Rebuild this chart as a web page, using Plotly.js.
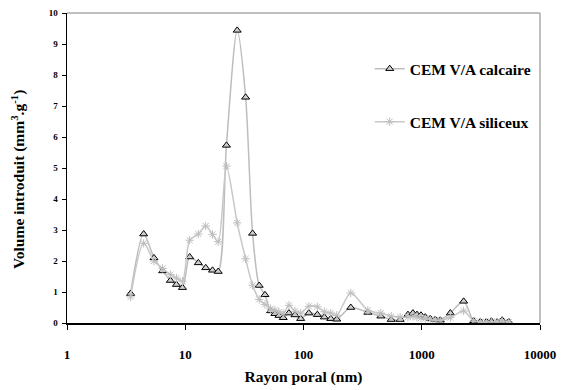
<!DOCTYPE html>
<html>
<head>
<meta charset="utf-8">
<script src="https://cdn.plot.ly/plotly-3.0.1.min.js"></script>
<style>html,body{margin:0;padding:0;background:#fff;}#chart{width:568px;height:390px;}</style>
</head>
<body>
<div id="chart"></div>
<script>
// Pore radius (nm)
const rayon = [3.45,4.45,5.44,6.44,7.49,8.42,9.47,10.9,12.9,14.9,17.0,19.0,22.3,27.5,32.4,37.1,42.2,47.2,52.7,57.3,62.0,67.4,75.3,84.7,94.6,111,131,150,170,191,251,350,451,552,657,764,842,911,985,1071,1181,1301,1435,1745,2260,2750,3133,3522,3884,4338,4783,5445];
// Intruded volume (mm3/g), CEM V/A calcaire
const calcaire = [0.95,2.87,2.10,1.68,1.37,1.24,1.14,2.13,1.94,1.78,1.70,1.66,5.73,9.44,7.28,2.89,1.21,0.91,0.39,0.30,0.24,0.17,0.32,0.26,0.14,0.32,0.27,0.19,0.14,0.12,0.50,0.34,0.22,0.11,0.11,0.27,0.32,0.27,0.25,0.19,0.14,0.11,0.09,0.32,0.70,0.07,0.04,0.04,0.06,0.03,0.09,0.04];
// Intruded volume (mm3/g), CEM V/A siliceux
const siliceux = [0.84,2.57,2.00,1.76,1.56,1.45,1.35,2.67,2.87,3.13,2.86,2.62,5.06,3.23,2.07,1.22,0.76,0.60,0.46,0.41,0.36,0.30,0.57,0.38,0.32,0.54,0.52,0.36,0.32,0.25,0.97,0.41,0.32,0.22,0.19,0.19,0.22,0.19,0.16,0.14,0.11,0.09,0.09,0.17,0.39,0.06,0.04,0.03,0.05,0.03,0.06,0.03];
const seriesNames = ["CEM V/A calcaire","CEM V/A siliceux"];
const xTickVals = [1,10,100,1000,10000];
const xTickText = ["1","10","100","1000","10000"];
const yTickVals = [0,1,2,3,4,5,6,7,8,9,10];
const xTitle = "Rayon poral (nm)";
const yTitle = "Volume introduit (mm<sup>3</sup>.g<sup>-1</sup>)";

const FONT = "'Liberation Serif', 'Times New Roman', serif";

const traces = [
  {
    x: rayon, y: calcaire, name: seriesNames[0], type: "scatter", mode: "lines+markers",
    line: {color: "#bdbdbd", width: 1.5, shape: "spline", smoothing: 0.8},
    marker: {symbol: "triangle-up", size: 7, color: "#cfcfcf", line: {color: "#000", width: 1}},
    legend: "legend"
  },
  {
    x: rayon, y: siliceux, name: seriesNames[1], type: "scatter", mode: "lines+markers",
    line: {color: "#c8c8c8", width: 1.5, shape: "spline", smoothing: 0.8},
    marker: {symbol: "asterisk-open", size: 7, color: "#bdbdbd", line: {color: "#bdbdbd", width: 1}},
    legend: "legend2"
  }
];

const legendFont = {family: FONT, size: 15.5, color: "#000", weight: "bold"};
const titleFont = {family: FONT, size: 15.5, color: "#000", weight: "bold"};
const layout = {
  width: 568, height: 390,
  margin: {l: 67, r: 28, t: 13, b: 67, pad: 0},
  paper_bgcolor: "#fff", plot_bgcolor: "#fff",
  font: {family: FONT, color: "#000"},
  showlegend: true,
  legend: {x: 0.64, y: 0.819, xanchor: "left", yanchor: "middle", bgcolor: "rgba(0,0,0,0)", borderwidth: 0, font: legendFont},
  legend2: {x: 0.64, y: 0.648, xanchor: "left", yanchor: "middle", bgcolor: "rgba(0,0,0,0)", borderwidth: 0, font: legendFont},
  xaxis: {
    type: "log", range: [0, 4],
    tickvals: xTickVals, ticktext: xTickText,
    showgrid: false, zeroline: false,
    showline: true, linecolor: "#000", linewidth: 1.5,
    ticks: "outside", ticklen: 5, tickcolor: "#000", tickwidth: 1,
    ticklabelstandoff: 14,
    tickfont: {family: FONT, size: 13, color: "#000", weight: "bold"},
    title: {text: xTitle, font: titleFont, standoff: 10}
  },
  yaxis: {
    range: [0, 10], tickvals: yTickVals,
    showgrid: false, zeroline: false,
    showline: true, linecolor: "#000", linewidth: 1.5,
    ticks: "outside", ticklen: 4, tickcolor: "#000", tickwidth: 1,
    ticklabelstandoff: 2,
    tickfont: {family: FONT, size: 9, color: "#000", weight: "bold"}
  },
  annotations: [
    {text: yTitle, xref: "paper", yref: "paper", x: -0.104, y: 0.464, xanchor: "center", yanchor: "middle",
     textangle: -90, showarrow: false, font: titleFont}
  ],
  shapes: [
    {type: "path", xref: "paper", yref: "paper", path: "M0,1 L1,1 L1,0", line: {color: "#808080", width: 1}, layer: "below"}
  ]
};

Plotly.newPlot("chart", traces, layout, {displayModeBar: false, staticPlot: true});
</script>
</body>
</html>
